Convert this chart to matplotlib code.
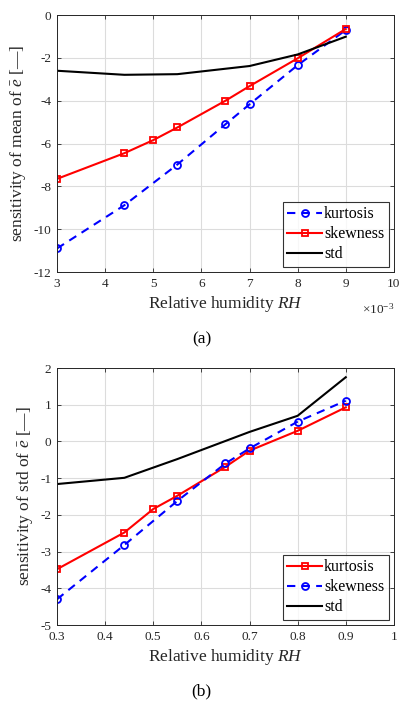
import matplotlib
matplotlib.use("Agg")
import matplotlib.pyplot as plt
from matplotlib.ticker import FuncFormatter

plt.rcParams['font.family'] = ['Liberation Serif', 'DejaVu Serif']
plt.rcParams['mathtext.fontset'] = 'custom'
plt.rcParams['mathtext.rm'] = 'Liberation Serif'
plt.rcParams['mathtext.it'] = 'Liberation Serif:italic'
plt.rcParams['mathtext.bf'] = 'Liberation Serif:bold'

# ---- panel (a) data: sensitivity of mean ----
rh_a_red = [0.003, 0.0044, 0.005, 0.0055, 0.0065, 0.007, 0.008, 0.009]
skew_a = [-7.65, -6.45, -5.84, -5.25, -4.0, -3.32, -2.02, -0.65]
rh_a_blue = [0.003, 0.0044, 0.0055, 0.0065, 0.007, 0.008, 0.009]
kurt_a = [-10.9, -8.88, -6.98, -5.1, -4.17, -2.34, -0.7]
rh_a_std = [0.003, 0.0044, 0.0055, 0.007, 0.008, 0.009]
std_a = [-2.6, -2.79, -2.76, -2.38, -1.84, -1.01]

# ---- panel (b) data: sensitivity of std ----
rh_b_red = [0.3, 0.44, 0.5, 0.55, 0.65, 0.7, 0.8, 0.9]
kurt_b = [-3.48, -2.48, -1.84, -1.48, -0.69, -0.25, 0.29, 0.93]
rh_b_blue = [0.3, 0.44, 0.55, 0.65, 0.7, 0.8, 0.9]
skew_b = [-4.3, -2.82, -1.62, -0.6, -0.19, 0.54, 1.11]
rh_b_std = [0.3, 0.44, 0.55, 0.7, 0.8, 0.9]
std_b = [-1.16, -0.99, -0.48, 0.26, 0.7, 1.75]

xt_a = [0.003, 0.004, 0.005, 0.006, 0.007, 0.008, 0.009, 0.010]
yt_a = [-12, -10, -8, -6, -4, -2, 0]
xt_b = [0.3, 0.4, 0.5, 0.6, 0.7, 0.8, 0.9, 1.0]
yt_b = [-5, -4, -3, -2, -1, 0, 1, 2]

fig = plt.figure(figsize=(4.03, 7.04), dpi=100)
axa = fig.add_axes([0.1414, 0.6136, 0.836, 0.365])
axb = fig.add_axes([0.1414, 0.1122, 0.836, 0.365])

tick_col = '#262626'
lw = 1.5

def style(ax):
    ax.grid(True, color='#dcdcdc', linewidth=0.8)
    ax.set_axisbelow(True)
    ax.tick_params(direction='in', top=True, right=True, labelsize=9.5,
                   colors=tick_col, length=3, width=0.6, pad=4)
    for s in ax.spines.values():
        s.set_color('#262626')
        s.set_linewidth(0.7)

# panel a
axa.plot(rh_a_blue, kurt_a, '--o', color='blue', lw=lw, ms=5, mfc='none', mew=1.3, label='kurtosis', dashes=(4, 3))
axa.plot(rh_a_red, skew_a, '-s', color='red', lw=lw, ms=4.5, mfc='none', mew=1.3, label='skewness')
axa.plot(rh_a_std, std_a, '-', color='black', lw=lw, label='std')
axa.set_xlim(0.003, 0.010)
axa.set_ylim(-12, 0)
axa.set_xticks(xt_a)
axa.set_yticks(yt_a)
axa.xaxis.set_major_formatter(FuncFormatter(lambda v, p: f"{v*1000:.0f}"))
axa.yaxis.set_major_formatter(FuncFormatter(lambda v, p: f"{v:.0f}".replace('\u2212', '-')))
style(axa)
axa.set_xlabel(r'Relative humidity $RH$', fontsize=12.5, color='#262626', labelpad=3)
axa.set_ylabel(r'sensitivity of mean of $\bar{e}$ [—]', fontsize=12.5, color='#262626', labelpad=4)
axa.text(1.0, -0.115, r'$\times10^{-3}$', transform=axa.transAxes, ha='right', va='top',
         fontsize=9.5, color=tick_col)
lga = axa.legend(loc='lower right', fontsize=11.5, frameon=True, fancybox=False,
                 edgecolor='black', handlelength=2.2, handletextpad=0.1,
                 borderpad=0.3, labelspacing=0.25, borderaxespad=0.3)
lga.get_frame().set_linewidth(0.8)
fig.text(0.5, 0.518, '(a)', ha='center', va='center', fontsize=12.5)

# panel b
axb.plot(rh_b_red, kurt_b, '-s', color='red', lw=lw, ms=4.5, mfc='none', mew=1.3, label='kurtosis')
axb.plot(rh_b_blue, skew_b, '--o', color='blue', lw=lw, ms=5, mfc='none', mew=1.3, label='skewness', dashes=(4, 3))
axb.plot(rh_b_std, std_b, '-', color='black', lw=lw, label='std')
axb.set_xlim(0.3, 1.0)
axb.set_ylim(-5, 2)
axb.set_xticks(xt_b)
axb.set_yticks(yt_b)
axb.xaxis.set_major_formatter(FuncFormatter(lambda v, p: f"{v:g}"))
axb.yaxis.set_major_formatter(FuncFormatter(lambda v, p: f"{v:.0f}"))
style(axb)
axb.set_xlabel(r'Relative humidity $RH$', fontsize=12.5, color='#262626', labelpad=3)
axb.set_ylabel(r'sensitivity of std of $\bar{e}$ [—]', fontsize=12.5, color='#262626', labelpad=4)
lgb = axb.legend(loc='lower right', fontsize=11.5, frameon=True, fancybox=False,
                 edgecolor='black', handlelength=2.2, handletextpad=0.1,
                 borderpad=0.3, labelspacing=0.25, borderaxespad=0.3)
lgb.get_frame().set_linewidth(0.8)
fig.text(0.5, 0.018, '(b)', ha='center', va='center', fontsize=12.5)

fig.savefig('out.png', dpi=100)
